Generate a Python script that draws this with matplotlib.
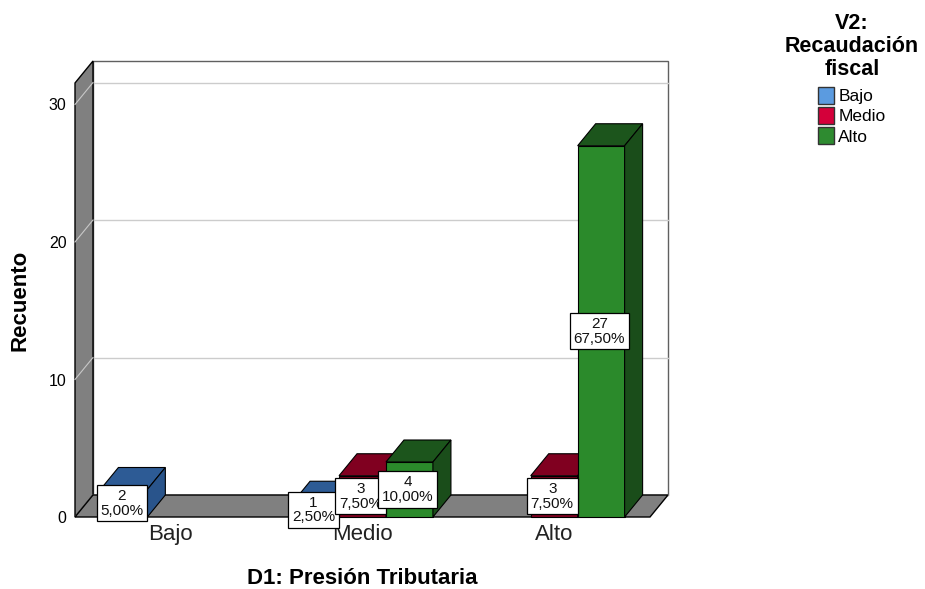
import matplotlib
matplotlib.use('Agg')
import matplotlib.pyplot as plt
from matplotlib.patches import Polygon, Patch

# Data
categories = ['Bajo', 'Medio', 'Alto']          # D1: Presión Tributaria
series = ['Bajo', 'Medio', 'Alto']              # V2: Recaudación fiscal
bajo_counts = [2, 1, 0]
medio_counts = [0, 3, 3]
alto_counts = [0, 4, 27]
total = 40
yticks = [0, 10, 20, 30]

front_colors = ['#2f5e9a', '#80001f', '#2b8a2b']
top_colors = ['#2d5b95', '#800020', '#1c551c']
side_colors = ['#29548b', '#6e001b', '#1a4d1a']
legend_colors = ['#5b9be0', '#d4003a', '#2e8b30']

plt.rcParams['font.family'] = ['Liberation Sans', 'DejaVu Sans']

fig = plt.figure(figsize=(9.25, 5.89), dpi=100)
# axes = front plane of the 3D box
ax = fig.add_axes([75 / 925, 1 - 517 / 589, 575 / 925, 434 / 589])
ymax = 434 / 13.75
ax.set_xlim(-0.5, 2.5)
ax.set_ylim(0, ymax)
for s in ax.spines.values():
    s.set_visible(False)

dx = 18 / (575 / 3)   # depth offset in data units
dy = 22 / 13.75
x0, x1 = -0.5, 2.5

# back wall
ax.add_patch(Polygon([(x0 + dx, dy), (x1 + dx, dy), (x1 + dx, ymax + dy), (x0 + dx, ymax + dy)],
                     closed=True, facecolor='white', edgecolor='#606060', lw=1, clip_on=False, zorder=1))
for v in yticks:
    ax.plot([x0 + dx, x1 + dx], [v + dy, v + dy], color='#cccccc', lw=1, clip_on=False, zorder=2)

# left wall
ax.add_patch(Polygon([(x0, 0), (x0 + dx, dy), (x0 + dx, ymax + dy), (x0, ymax)],
                     closed=True, facecolor='#808080', edgecolor='black', lw=1, clip_on=False, zorder=3))
for v in yticks:
    ax.plot([x0, x0 + dx], [v, v + dy], color='#c8c8c8', lw=0.8, clip_on=False, zorder=3.5)

# floor
ax.add_patch(Polygon([(x0, 0), (x1, 0), (x1 + dx, dy), (x0 + dx, dy)],
                     closed=True, facecolor='#808080', edgecolor='black', lw=1, clip_on=False, zorder=4))

# bars
bw = 0.245
all_counts = [bajo_counts, medio_counts, alto_counts]
z = 5
for i in range(len(categories)):
    for j in range(len(series)):
        v = all_counts[j][i]
        if v == 0:
            continue
        xc = i + (j - 1) * bw
        l, r = xc - bw / 2, xc + bw / 2
        ax.add_patch(Polygon([(l, 0), (r, 0), (r, v), (l, v)], closed=True,
                             facecolor=front_colors[j], edgecolor='black', lw=0.8, clip_on=False, zorder=z))
        ax.add_patch(Polygon([(l, v), (r, v), (r + dx, v + dy), (l + dx, v + dy)], closed=True,
                             facecolor=top_colors[j], edgecolor='black', lw=0.8, clip_on=False, zorder=z))
        ax.add_patch(Polygon([(r, 0), (r + dx, dy), (r + dx, v + dy), (r, v)], closed=True,
                             facecolor=side_colors[j], edgecolor='black', lw=0.8, clip_on=False, zorder=z))
        z += 0.1

# value labels
for i in range(len(categories)):
    for j in range(len(series)):
        v = all_counts[j][i]
        if v == 0:
            continue
        xc = i + (j - 1) * bw
        pct = f'{v / total * 100:.2f}'.replace('.', ',') + '%'
        ax.text(xc - 0.01, v / 2, f'{v}\n{pct}', ha='center', va='center', fontsize=11,
                linespacing=1.05, zorder=20, color='#111111',
                bbox=dict(boxstyle='square,pad=0.25', facecolor='white', edgecolor='black', lw=0.9))

ax.set_yticks(yticks)
ax.set_yticklabels([str(t) for t in yticks], fontsize=11.5)
ax.set_xticks(range(len(categories)))
ax.set_xticklabels(categories, fontsize=16, color='#222222')
ax.tick_params(axis='y', length=0, pad=6)
ax.tick_params(axis='x', length=0, pad=5)

fig.text(362 / 925, 1 - 578 / 589, 'D1: Presión Tributaria', ha='center', va='center',
         fontsize=16, fontweight='bold')
fig.text(20 / 925, 1 - 300 / 589, 'Recuento', ha='center', va='center', rotation=90,
         fontsize=16, fontweight='bold')

handles = [Patch(facecolor=c, edgecolor='#333333', lw=1) for c in legend_colors]
leg = fig.legend(handles, series, loc='upper center', bbox_to_anchor=(852 / 925, 1 - 1 / 589),
                 frameon=False, title='V2:\nRecaudación\nfiscal',
                 title_fontproperties={'weight': 'bold', 'size': 15.5},
                 fontsize=12.5, handlelength=0.9, handleheight=1.1, handletextpad=0.25,
                 labelspacing=0.17, borderpad=0.2)
leg.get_title().set_multialignment('center')
leg.get_title().set_linespacing(1.12)
leg._legend_box.sep = 5

fig.savefig('out.png', dpi=100)
